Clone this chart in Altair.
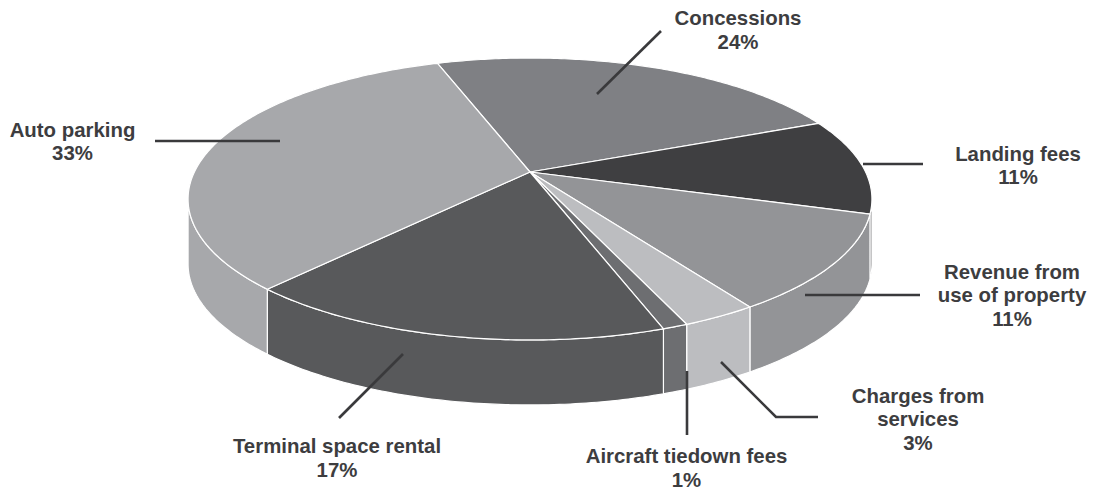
import math
import altair as alt
import pandas as pd

# ---------------- data ----------------
categories = ["Concessions", "Landing fees", "Revenue from use of property",
              "Charges from services", "Aircraft tiedown fees",
              "Terminal space rental", "Auto parking"]
shares = [24, 11, 11, 3, 1, 17, 33]
label_lines = [["Concessions"], ["Landing fees"], ["Revenue from", "use of property"],
               ["Charges from", "services"], ["Aircraft tiedown fees"],
               ["Terminal space rental"], ["Auto parking"]]
colors = ["#7f8084", "#3f3f41", "#939497", "#bcbdc0", "#6d6e71", "#58595b", "#a7a8ab"]

# ---------------- layout (page pixels) ----------------
CX, CY = 530.0, 172.0      # apex of the pie
RX, RY = 335.6, 135.8      # ellipse scale
K = 0.1915                 # perspective factor
DEPTH = 65.0               # thickness of the pie
START = -19.0              # start angle of first slice (deg, clockwise from top)
label_pos = [(738, 25.0), (1018, 160.7), (1012, 278.7), (918, 402.7),
             (686.5, 463.0), (337, 453.3), (72.5, 136.7)]
LINE_H = 23.6
leaders = [[(597, 94), (661, 31)],
           [(863, 164), (923, 164)],
           [(805, 295), (920, 295)],
           [(721, 362), (776, 417), (818, 417)],
           [(687, 371), (687, 435)],
           [(403, 354), (339, 418)],
           [(155, 141), (280, 141)]]
W, H = 1081, 482


def proj(theta, drop=0.0):
    t = math.radians(theta)
    u = math.sin(t)
    v = -math.cos(t)
    w = 1 - K * v
    return CX + RX * u / w, CY + RY * v / w + drop


def arc_angles(a, b):
    n = max(2, int(math.ceil(abs(b - a) / 0.75)) + 1)
    return [a + (b - a) * j / (n - 1) for j in range(n)]


total = float(sum(shares))
bounds = []
acc = START
for s in shares:
    a = acc
    b = acc + 360.0 * s / total
    bounds.append((a, b))
    acc = b

vis_lo = math.degrees(math.acos(-K))
vis_hi = 360.0 - vis_lo

top_rows, side_rows = [], []
for ci, (cat, (a, b)) in enumerate(zip(categories, bounds)):
    # top face wedge
    pts = [(CX, CY)] + [proj(t) for t in arc_angles(a, b)] + [(CX, CY)]
    for i, (x, y) in enumerate(pts):
        top_rows.append({"poly": f"t{ci}", "i": i, "x": x, "y": y, "cat": cat})
    # visible side face
    lo, hi = max(a, vis_lo), min(b, vis_hi)
    if hi > lo:
        angs = arc_angles(lo, hi)
        pts = [proj(t) for t in angs] + [proj(t, DEPTH) for t in reversed(angs)]
        pts.append(pts[0])
        for i, (x, y) in enumerate(pts):
            side_rows.append({"poly": f"s{ci}", "i": i, "x": x, "y": y, "cat": cat})

lead_rows = []
for ci, pts in enumerate(leaders):
    for i, (x, y) in enumerate(pts):
        lead_rows.append({"lid": ci, "i": i, "x": x, "y": y})

text_rows = []
for ci, (lines, s, (lx, ly)) in enumerate(zip(label_lines, shares, label_pos)):
    all_lines = lines + [f"{s}%"]
    for j, ln in enumerate(all_lines):
        text_rows.append({"x": lx, "y": ly + j * LINE_H, "line": ln})

xs = alt.Scale(domain=[8, 8 + W], nice=False, zero=False)
ys = alt.Scale(domain=[8, 8 + H], nice=False, zero=False, reverse=True)
cs = alt.Scale(domain=categories, range=colors)

sides = alt.Chart(pd.DataFrame(side_rows)).mark_line(
    filled=True, stroke="white", strokeWidth=1.2, strokeJoin="round"
).encode(
    x=alt.X("x:Q", scale=xs, axis=None),
    y=alt.Y("y:Q", scale=ys, axis=None),
    color=alt.Color("cat:N", scale=cs, legend=None),
    detail="poly:N",
    order="i:Q",
)

tops = alt.Chart(pd.DataFrame(top_rows)).mark_line(
    filled=True, stroke="white", strokeWidth=1.2, strokeJoin="round"
).encode(
    x=alt.X("x:Q", scale=xs, axis=None),
    y=alt.Y("y:Q", scale=ys, axis=None),
    color=alt.Color("cat:N", scale=cs, legend=None),
    detail="poly:N",
    order="i:Q",
)

leads = alt.Chart(pd.DataFrame(lead_rows)).mark_line(
    color="#3a3a3c", strokeWidth=2.6
).encode(
    x=alt.X("x:Q", scale=xs, axis=None),
    y=alt.Y("y:Q", scale=ys, axis=None),
    detail="lid:N",
    order="i:Q",
)

texts = alt.Chart(pd.DataFrame(text_rows)).mark_text(
    font="Liberation Sans", fontSize=20.4, fontWeight="bold", color="#3d3d3f",
    align="center", baseline="alphabetic"
).encode(
    x=alt.X("x:Q", scale=xs, axis=None),
    y=alt.Y("y:Q", scale=ys, axis=None),
    text="line:N",
)

chart = alt.layer(sides, tops, leads, texts).properties(
    width=W, height=H, padding=0, autosize=alt.AutoSizeParams(type="none")
).configure_view(strokeWidth=0)

chart.save("out.html", embed_options={"renderer": "svg", "actions": False})
